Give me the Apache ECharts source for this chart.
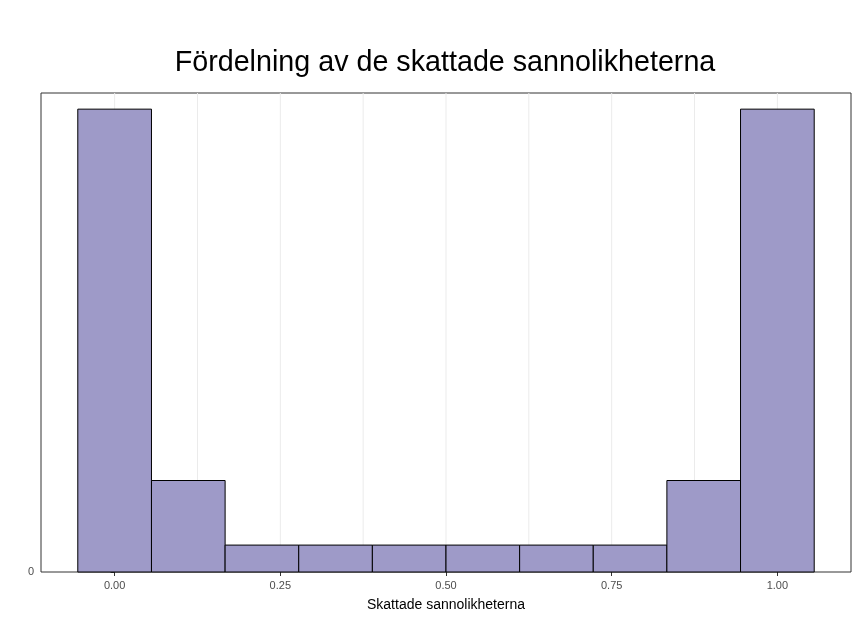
<!DOCTYPE html>
<html>
<head>
<meta charset="utf-8">
<script src="https://cdn.jsdelivr.net/npm/echarts@6/dist/echarts.min.js"></script>
<style>
html,body{margin:0;padding:0;background:#fff;}
#c{width:858px;height:617px;}
</style>
</head>
<body>
<div id="c"></div>
<script>
// Bin edges (histogram, 10 bins) and counts
var binLeft  = [-0.0556, 0.0556, 0.1667, 0.2778, 0.3889, 0.5000, 0.6111, 0.7222, 0.8333, 0.9444];
var binRight = [ 0.0556, 0.1667, 0.2778, 0.3889, 0.5000, 0.6111, 0.7222, 0.8333, 0.9444, 1.0556];
var counts   = [86, 17, 5, 5, 5, 5, 5, 5, 17, 86];
var xTickLabels = [0, 0.25, 0.5, 0.75, 1];
var xGridLines = [0, 0.125, 0.25, 0.375, 0.5, 0.625, 0.75, 0.875, 1];
var yTicks = [0];

var barData = counts.map(function (c, i) { return [binLeft[i], binRight[i], c]; });
var gridData = xGridLines.map(function (v) { return [v]; });
var yMax = 89;

var chart = echarts.init(document.getElementById('c'), null, {renderer: 'canvas'});
chart.setOption({
  backgroundColor: '#ffffff',
  animation: false,
  title: {
    text: 'Fördelning av de skattade sannolikheterna',
    left: 440, top: 44, textAlign: 'center',
    textStyle: {fontFamily: 'Liberation Sans, Arial, sans-serif', fontSize: 28.7, fontWeight: 'normal', color: '#000'}
  },
  grid: {left: 41, right: 7, top: 93, bottom: 41, show: true, borderColor: '#333333', borderWidth: 1, backgroundColor: '#fff'},
  xAxis: {
    type: 'value', min: -1/9, max: 10/9,
    name: 'Skattade sannolikheterna', nameLocation: 'middle', nameGap: 26,
    nameTextStyle: {fontFamily: 'Liberation Sans, Arial, sans-serif', fontSize: 14, color: '#000'},
    axisLine: {show: false},
    axisTick: {show: true, length: 4, lineStyle: {color: '#333'}, customValues: xTickLabels},
    axisLabel: {customValues: xTickLabels, margin: 8, fontFamily: 'Liberation Sans, Arial, sans-serif', fontSize: 11, color: '#4d4d4d',
      formatter: function (v) { return v.toFixed(2); }},
    splitLine: {show: false}
  },
  yAxis: {
    type: 'value', min: 0, max: yMax,
    axisLine: {show: false},
    axisTick: {show: true, length: 4, lineStyle: {color: '#333'}, customValues: yTicks},
    axisLabel: {customValues: yTicks, margin: 7, fontFamily: 'Liberation Sans, Arial, sans-serif', fontSize: 11, color: '#4d4d4d'},
    splitLine: {show: false}
  },
  series: [
    {
      type: 'custom', z: 1, silent: true,
      data: gridData,
      renderItem: function (params, api) {
        var p0 = api.coord([api.value(0), 0]);
        var p1 = api.coord([api.value(0), yMax]);
        return {type: 'line', shape: {x1: p0[0], y1: p0[1], x2: p1[0], y2: p1[1]},
          style: {stroke: '#ebebeb', lineWidth: 1}};
      }
    },
    {
      type: 'custom', z: 2,
      data: barData,
      renderItem: function (params, api) {
        var a = api.coord([api.value(0), api.value(2)]);
        var b = api.coord([api.value(1), 0]);
        return {type: 'rect', shape: {x: a[0], y: a[1], width: b[0] - a[0], height: b[1] - a[1]},
          style: {fill: '#9e9ac8', stroke: '#000000', lineWidth: 1}};
      }
    }
  ]
});
</script>
</body>
</html>
